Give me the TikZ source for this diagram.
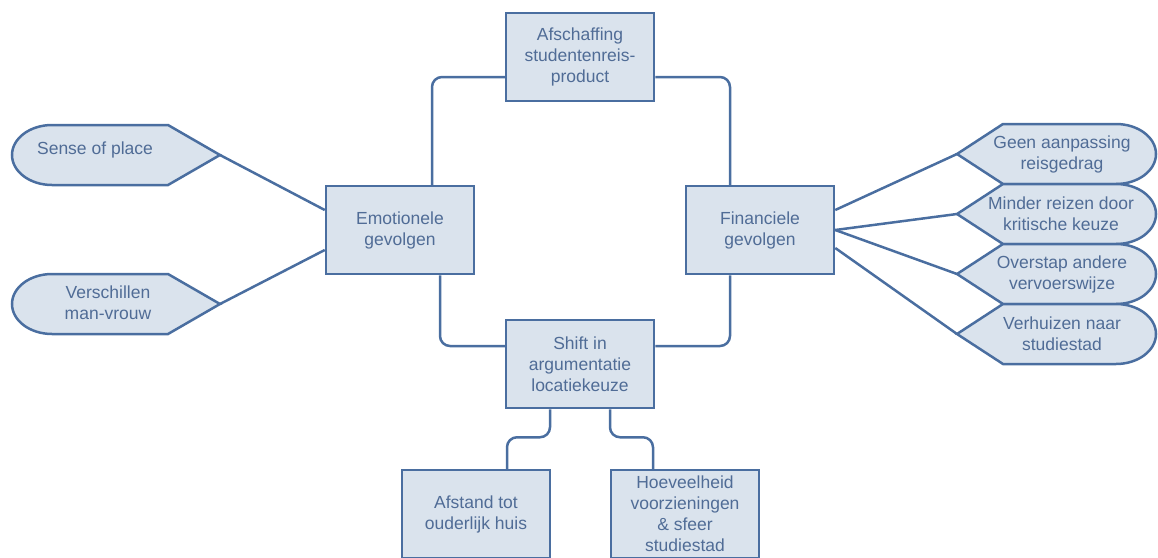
\documentclass[tikz,border=0pt]{standalone}
\usepackage{fontspec}
\setmainfont{Liberation Sans}
\definecolor{boxline}{RGB}{74,110,160}
\definecolor{boxfill}{RGB}{218,227,237}
\definecolor{txt}{RGB}{80,108,150}
\tikzset{
  box/.style={draw=boxline, fill=boxfill, line width=2.5pt, minimum width=148pt,
    minimum height=88pt, inner sep=0pt, align=center, text=txt,
    font=\fontsize{17.5}{21}\selectfont},
  flag/.style={draw=boxline, fill=boxfill, line width=2.5pt},
  lbl/.style={align=center, text=txt, inner sep=0pt, font=\fontsize{17.5}{21}\selectfont},
  wire/.style={draw=boxline, line width=2.5pt, rounded corners=10pt}
}
\begin{document}
\begin{tikzpicture}[x=1pt,y=-1pt]
\useasboundingbox (0,0) rectangle (1158,557);
% main boxes
\node[box] (afsch) at (580,57) {Afschaffing\\studentenreis-\\product};
\node[box] (emo) at (400,230) {Emotionele\\gevolgen};
\node[box] (fin) at (760,230) {Financiele\\gevolgen};
\node[box] (shift) at (580,364) {Shift in\\argumentatie\\locatiekeuze};
\node[box] (afstand) at (476,514) {Afstand tot\\ouderlijk huis};
\node[box] (hoev) at (685,514) {Hoeveelheid\\voorzieningen\\\& sfeer\\studiestad};
% left flags
\draw[flag] (168,125) -- (220,155) coordinate (sensetip) -- (168,185) -- (52,185)
  arc[start angle=270, end angle=90, x radius=40pt, y radius=30pt] -- cycle;
\node[lbl] (sense) at (95,150) {Sense of place};
\draw[flag] (168,274) -- (220,304) coordinate (verschtip) -- (168,334) -- (52,334)
  arc[start angle=270, end angle=90, x radius=40pt, y radius=30pt] -- cycle;
\node[lbl] (versch) at (108,303) {Verschillen\\man-vrouw};
% right flags
\draw[flag] (957,154) coordinate (geentip) -- (1003,124) -- (1116,124)
  arc[start angle=90, end angle=-90, x radius=40pt, y radius=30pt] -- (1003,184) -- cycle;
\node[lbl] (geen) at (1062,154) {Geen aanpassing\\reisgedrag};
\draw[flag] (957,214) coordinate (mindertip) -- (1003,184) -- (1116,184)
  arc[start angle=90, end angle=-90, x radius=40pt, y radius=30pt] -- (1003,244) -- cycle;
\node[lbl] (minder) at (1061,214) {Minder reizen door\\kritische keuze};
\draw[flag] (957,274) coordinate (overtip) -- (1003,244) -- (1116,244)
  arc[start angle=90, end angle=-90, x radius=40pt, y radius=30pt] -- (1003,304) -- cycle;
\node[lbl] (over) at (1062,274) {Overstap andere\\vervoerswijze};
\draw[flag] (957,334) coordinate (verhtip) -- (1003,304) -- (1116,304)
  arc[start angle=90, end angle=-90, x radius=40pt, y radius=30pt] -- (1003,364) -- cycle;
\node[lbl] (verh) at (1062,334) {Verhuizen naar\\studiestad};
% connectors
\draw[wire] ([yshift=-20pt]afsch.west) -| ([xshift=32pt]emo.north);
\draw[wire] ([yshift=-20pt]afsch.east) -| ([xshift=-30pt]fin.north);
\draw[wire] ([xshift=40pt]emo.south) |- ([yshift=18pt]shift.west);
\draw[wire] ([xshift=-30pt]fin.south) |- ([yshift=18pt]shift.east);
\draw[wire] ([xshift=-30pt]shift.south) -- ++(0,28) -| ([xshift=31pt]afstand.north);
\draw[wire] ([xshift=30pt]shift.south) -- ++(0,28) -| ([xshift=-32pt]hoev.north);
\draw[wire] (sensetip) -- ([yshift=20pt]emo.west);
\draw[wire] (verschtip) -- ([yshift=-20pt]emo.west);
\draw[wire] ([yshift=20pt]fin.east) -- (geentip);
\draw[wire] (fin.east) -- (mindertip);
\draw[wire] (fin.east) -- (overtip);
\draw[wire] ([yshift=-18pt]fin.east) -- (verhtip);
\end{tikzpicture}
\end{document}
